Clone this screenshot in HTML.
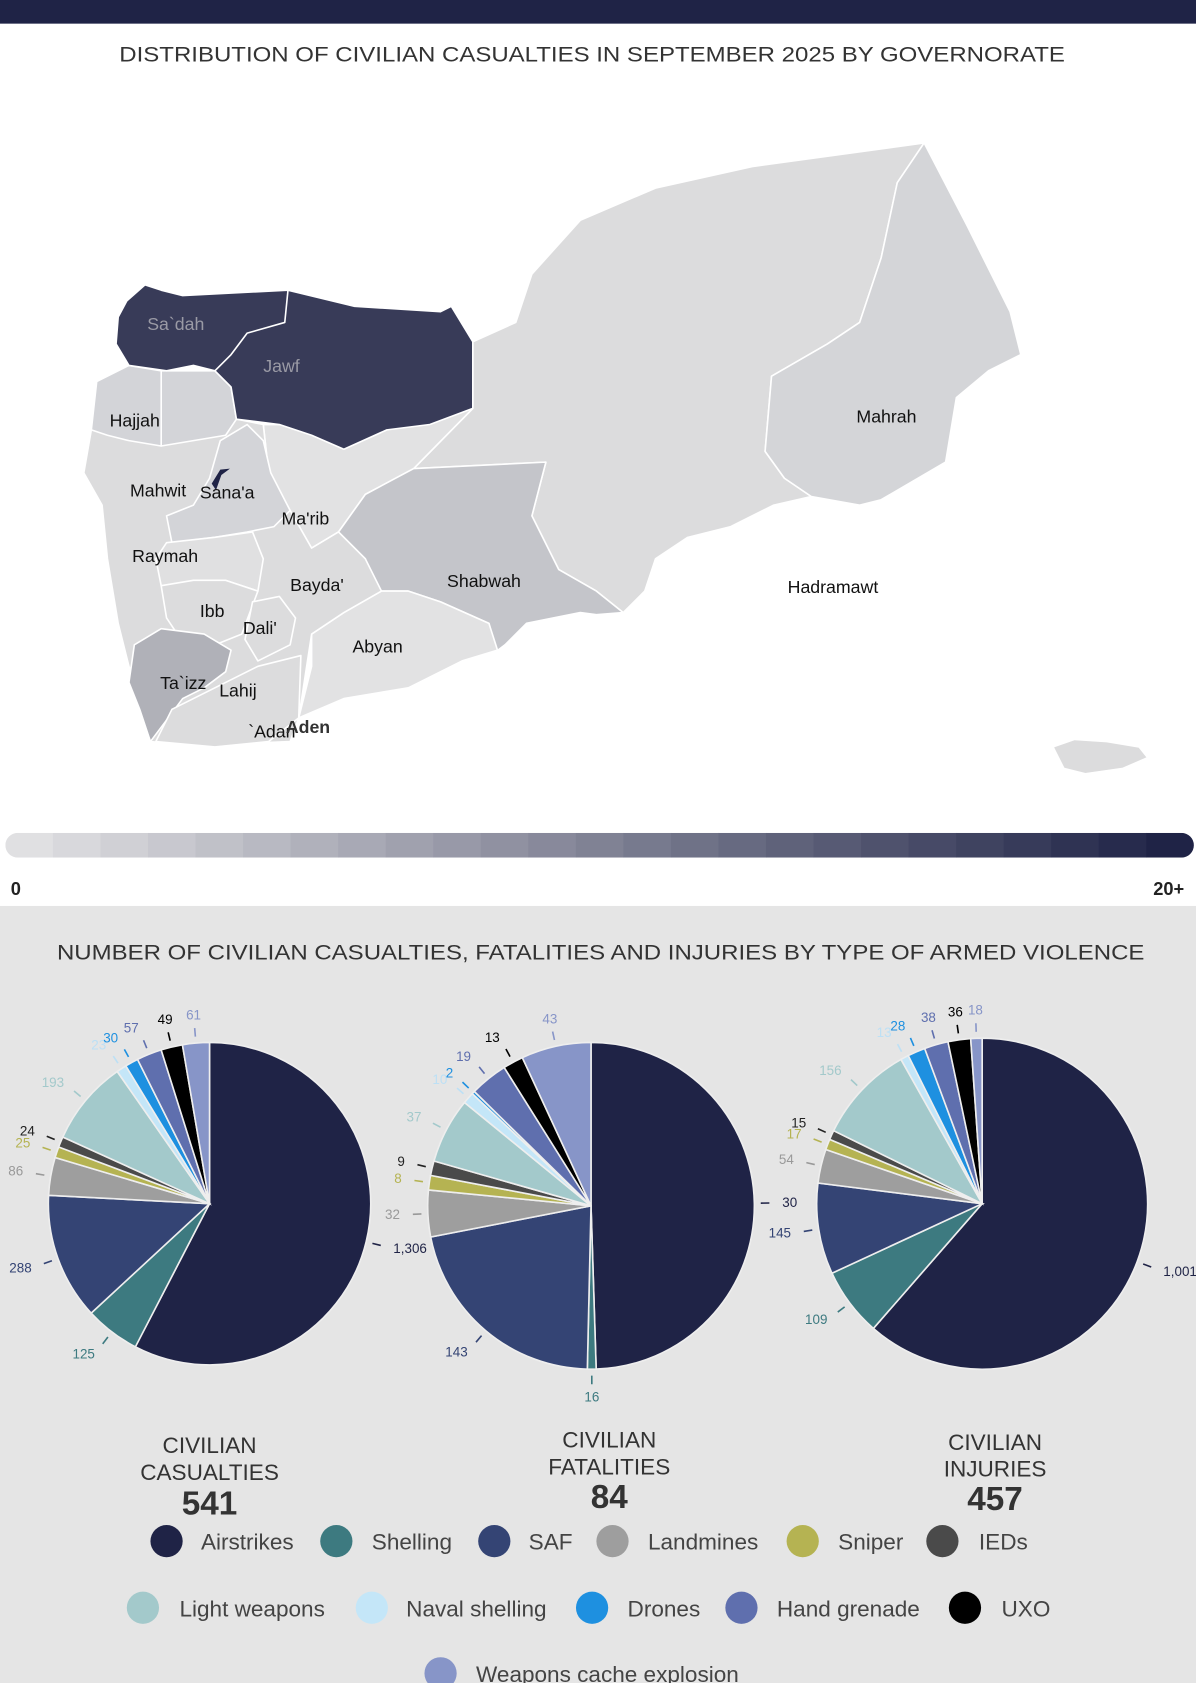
<!DOCTYPE html>
<html><head><meta charset="utf-8"><style>
html,body{margin:0;padding:0;background:#fff}
svg{display:block}
text{font-family:"Liberation Sans",sans-serif}
</style></head><body>
<svg id="s" width="1196" height="1683" viewBox="0 0 1113 1566" preserveAspectRatio="none" xmlns="http://www.w3.org/2000/svg">
<rect x="0" y="0" width="1113" height="1566" fill="#fff"/>
<rect x="0" y="0" width="1113" height="22" fill="#1f2346"/>
<text x="111" y="57" font-size="20" fill="#333" textLength="880" lengthAdjust="spacingAndGlyphs">DISTRIBUTION OF CIVILIAN CASUALTIES IN SEPTEMBER 2025 BY GOVERNORATE</text>
<g stroke="#fff" stroke-width="1.5" stroke-linejoin="round">
<path fill="#dcdcdd" d="M440,318 L480,300 495,255 540,205 610,175 700,155 860,133 835,170 820,240 800,300 770,320 718,350 712,420 730,445 755,462 720,470 680,490 640,500 610,520 600,550 580,570 555,550 520,530 495,480 508,430 385,436 440,380Z"/>
<path fill="#d4d5d8" d="M860,133 L900,210 940,290 950,330 920,345 890,370 880,430 820,465 800,470 755,462 730,445 712,420 718,350 770,320 800,300 820,240 835,170Z"/>
<path fill="#e2e2e3" d="M440,380 L385,436 340,460 315,495 290,510 270,475 250,440 245,395 275,395 320,415 360,400Z"/>
<path fill="#c4c5ca" d="M315,495 L340,460 385,436 508,430 495,480 520,530 555,550 580,570 555,572 540,570 490,580 470,600 462,606 455,580 410,560 380,550 350,550 340,520Z"/>
<path fill="#e2e2e3" d="M290,590 L320,570 355,550 380,550 410,560 455,580 463,605 430,615 380,640 320,650 278,668 290,620Z"/>
<path fill="#dcdcdd" d="M90,355 L120,340 150,345 200,345 215,360 220,390 245,395 250,440 270,475 290,510 315,495 340,520 355,550 320,570 290,590 278,668 270,690 220,692 160,692 140,690 135,650 120,620 110,580 100,520 95,470 78,440 85,400Z"/>
<path fill="#d3d4d8" d="M150,345 L200,345 215,360 220,390 210,405 180,410 150,415 150,380Z"/>
<path fill="#d3d4d8" d="M85,400 L90,355 120,340 150,345 150,415 120,410 100,405Z"/>
<path fill="#d3d4d8" d="M205,410 L230,395 245,410 252,440 270,475 255,490 230,495 200,500 160,505 155,480 180,470 195,445Z"/>
<path fill="#e0e0e1" d="M155,505 L200,500 235,495 245,520 240,550 210,540 180,545 150,545 145,520Z"/>
<path fill="#dcdcdd" d="M150,545 L180,540 210,540 240,550 225,590 200,600 165,590 155,575Z"/>
<path fill="#dcdcdd" d="M235,560 L260,555 275,575 270,600 240,615 228,595Z"/>
<path fill="#b0b1b8" d="M125,600 L150,585 190,590 215,605 210,625 190,640 170,650 155,670 140,690 130,660 120,635Z"/>
<path fill="#dcdcdd" d="M145,690 L160,660 200,640 240,620 280,610 278,668 250,690 200,695Z"/>
<path fill="#383b58" d="M210,320 L225,305 268,270 330,285 410,290 420,285 440,318 440,380 400,395 360,400 320,418 290,405 260,395 220,390 215,360 200,345Z"/>
<path fill="#383b58" d="M118,280 L135,265 150,270 170,275 268,270 265,300 230,310 215,330 200,345 180,340 155,345 120,340 108,320 110,295Z"/>
<path fill="#1f2346" d="M197,450 L205,437 214,436 206,442 201,456Z" stroke="none"/>
<path fill="#dcdcdd" d="M980,695 L1000,688 1030,690 1060,695 1068,705 1045,715 1010,720 990,715Z"/>
</g>
<g font-size="16.5" fill="#111">
<text x="137" y="307" fill="#9a9aa5">Sa`dah</text>
<text x="245" y="346" fill="#9a9aa5">Jawf</text>
<text x="102" y="397">Hajjah</text>
<text x="121" y="462">Mahwit</text>
<text x="186" y="464">Sana'a</text>
<text x="262" y="488">Ma'rib</text>
<text x="123" y="523">Raymah</text>
<text x="270" y="550">Bayda'</text>
<text x="416" y="546">Shabwah</text>
<text x="733" y="552">Hadramawt</text>
<text x="797" y="393">Mahrah</text>
<text x="186" y="574">Ibb</text>
<text x="226" y="590">Dali'</text>
<text x="328" y="607">Abyan</text>
<text x="149" y="641">Ta`izz</text>
<text x="204" y="648">Lahij</text>
<text x="231" y="686">`Adan</text>
<text x="266" y="682" font-weight="bold" fill="#333">Aden</text>
</g>
<g id="cb"></g>
<text x="10" y="833" font-size="17" font-weight="bold" fill="#222">0</text>
<text x="1102" y="833" font-size="17" font-weight="bold" fill="#222" text-anchor="end">20+</text>
<rect x="0" y="843" width="1113" height="723" fill="#e5e5e5"/>
<text x="53" y="893" font-size="20" fill="#333" textLength="1012" lengthAdjust="spacingAndGlyphs">NUMBER OF CIVILIAN CASUALTIES, FATALITIES AND INJURIES BY TYPE OF ARMED VIOLENCE</text>
<g id="pies"></g>
<g font-size="21" fill="#333" text-anchor="middle">
<text x="195" y="1352">CIVILIAN</text><text x="195" y="1377">CASUALTIES</text>
<text x="195" y="1409" font-size="31" font-weight="bold">541</text>
<text x="567" y="1347">CIVILIAN</text><text x="567" y="1372">FATALITIES</text>
<text x="567" y="1403" font-size="31" font-weight="bold">84</text>
<text x="926" y="1349">CIVILIAN</text><text x="926" y="1374">INJURIES</text>
<text x="926" y="1405" font-size="31" font-weight="bold">457</text>
</g>
<g id="leg" font-size="21" fill="#444"></g>
</svg>
<script>
const NS="http://www.w3.org/2000/svg";
function el(t,a,p){const e=document.createElementNS(NS,t);for(const k in a)e.setAttribute(k,a[k]);p.appendChild(e);return e;}
const cb=document.getElementById('cb');
const c0=[224,224,226],c1=[31,35,70];const N=25,x0=5,x1=1111,w=(x1-x0)/N;
const clip=el('clipPath',{id:'cbc'},cb);el('rect',{x:x0,y:775,width:x1-x0,height:23,rx:11.5},clip);
const g=el('g',{'clip-path':'url(#cbc)'},cb);
for(let i=0;i<N;i++){const t=i/(N-1);const c=c0.map((v,j)=>Math.round(v+(c1[j]-v)*t));el('rect',{x:x0+i*w,y:775,width:w+0.5,height:23,fill:`rgb(${c})`},g);}
const cols=["#1f2346","#3d7a80","#344474","#9e9e9e","#b5b352","#4a4a4a","#a3c9cb","#c4e6f8","#1e90e0","#5f6fae","#000000","#8795c8"];
const lcols=["#1f2346","#3d7a80","#344474","#999","#b5b352","#222","#a3c9cb","#bde0f5","#1e90e0","#5f6fae","#000","#8795c8"];
const pies=[
 {cx:195,cy:1120,r:150,v:[1306,125,288,86,25,24,193,23,30,57,49,61]},
 {cx:550,cy:1122,r:152,frac:[172,3,75,16,5,5,22.5,4,1,13,7,24],lab:[30,16,143,32,8,9,37,10,2,19,13,43]},
 {cx:914,cy:1120,r:154,v:[1001,109,145,54,17,15,156,13,28,38,36,18]}];
const P=document.getElementById('pies');
pies.forEach(p=>{
 const vals=p.frac||p.v;const labs=p.lab||p.v;const tot=vals.reduce((a,b)=>a+b,0);
 let a=0;
 vals.forEach((v,i)=>{
  const a1=a+v/tot*2*Math.PI;
  const pt=(ang,r)=>[p.cx+r*Math.sin(ang),p.cy-r*Math.cos(ang)];
  const [xa,ya]=pt(a,p.r),[xb,yb]=pt(a1,p.r);
  el('path',{d:`M${p.cx},${p.cy} L${xa},${ya} A${p.r},${p.r} 0 ${a1-a>Math.PI?1:0} 1 ${xb},${yb}Z`,fill:cols[i],stroke:'#eee','stroke-width':1.5},P);
  const m=(a+a1)/2;const [l1x,l1y]=pt(m,p.r+6),[l2x,l2y]=pt(m,p.r+14);
  el('line',{x1:l1x,y1:l1y,x2:l2x,y2:l2y,stroke:lcols[i],'stroke-width':1.5},P);
  const [tx,ty]=pt(m,p.r+26);
  const t=el('text',{x:tx,y:ty+4,'font-size':12.5,fill:lcols[i],'text-anchor':Math.sin(m)>0.3?'start':(Math.sin(m)<-0.3?'end':'middle')},P);
  t.textContent=labs[i].toLocaleString('en-US');
  a=a1;
 });
});
const L=document.getElementById('leg');
const items=[[155,187,1434,0,"Airstrikes"],[313,346,1434,1,"Shelling"],[460,492,1434,2,"SAF"],[570,603,1434,3,"Landmines"],[747,780,1434,4,"Sniper"],[877,911,1434,5,"IEDs"],
[133,167,1496,6,"Light weapons"],[346,378,1496,7,"Naval shelling"],[551,584,1496,8,"Drones"],[690,723,1496,9,"Hand grenade"],[898,932,1496,10,"UXO"],[410,443,1557,11,"Weapons cache explosion"]];
items.forEach(([cx,tx,y,i,s])=>{el('circle',{cx,cy:y,r:15,fill:cols[i]},L);const t=el('text',{x:tx,y:y+8},L);t.textContent=s;});
</script>
</body></html>
